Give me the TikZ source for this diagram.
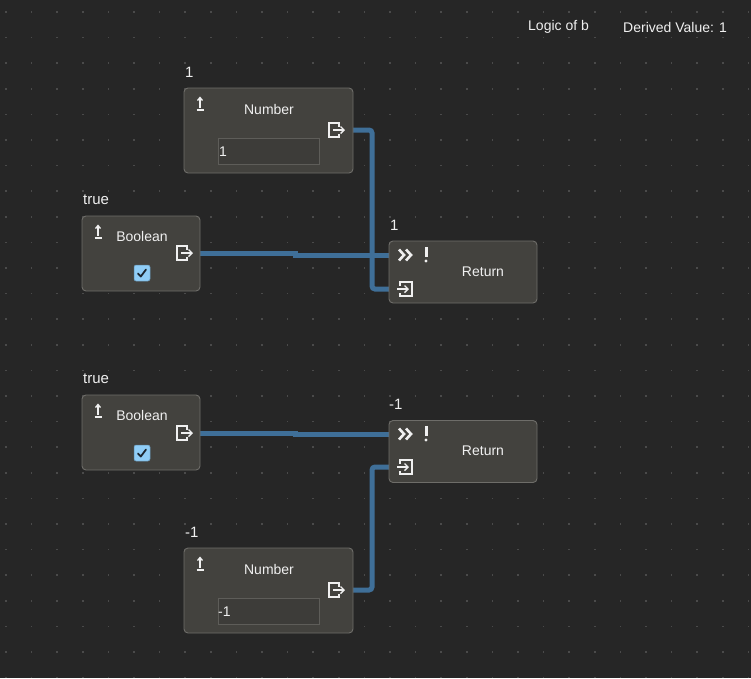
\documentclass[tikz,border=0pt]{standalone}
\usepackage{fontspec}
\setmainfont{Liberation Sans}
\definecolor{bg}{HTML}{262626}
\definecolor{dotc}{HTML}{4A4A4A}
\definecolor{nodefill}{HTML}{43423E}
\definecolor{nodeline}{HTML}{6E6D69}
\definecolor{fieldfill}{HTML}{3D3C39}
\definecolor{fieldline}{HTML}{5E5D59}
\definecolor{txt}{HTML}{F0F0F0}
\definecolor{wirec}{HTML}{3F6F98}
\definecolor{chk}{HTML}{8FCDF7}
\definecolor{chkmark}{HTML}{1C2630}
\tikzset{
  nodebox/.style={draw=nodeline, fill=nodefill, line width=0.9pt, rounded corners=4pt, inner sep=0pt},
  fieldbox/.style={draw=fieldline, fill=fieldfill, line width=0.8pt, inner sep=0pt},
  wire/.style={draw=wirec, line width=5pt, rounded corners=3pt},
  ttl/.style={text=txt, font=\fontsize{14}{16}\selectfont, inner sep=0pt},
  lbl/.style={text=txt, font=\fontsize{15}{17}\selectfont, inner sep=0pt, anchor=west},
  icon/.style={draw=txt, line width=1.4pt},
  chkbox/.style={fill=chk, draw=chk!70!black, line width=0.5pt, rounded corners=2pt, minimum size=16pt, inner sep=0pt},
}
\newcommand{\outicon}[1]{%
  \begin{scope}[shift={(#1)}]
    \draw[icon] (3,-3.5)--(3,-7)--(-7,-7)--(-7,7)--(3,7)--(3,3.5);
    \draw[icon] (-3,0)--(8,0);
    \draw[icon] (4.5,-3.5)--(8,0)--(4.5,3.5);
  \end{scope}}
\newcommand{\inicon}[1]{%
  \begin{scope}[shift={(#1)}]
    \draw[icon] (-5,-3.5)--(-5,-7)--(7,-7)--(7,7)--(-5,7)--(-5,3.5);
    \draw[icon] (-8,0)--(3,0);
    \draw[icon] (-0.5,-3.5)--(3,0)--(-0.5,3.5);
  \end{scope}}
\newcommand{\upicon}[1]{%
  \begin{scope}[shift={(#1)}]
    \draw[icon, line width=1.3pt] (0,5)--(0,-5);
    \draw[icon, line width=1.3pt] (-2.5,-2.5)--(0,-5.5)--(2.5,-2.5);
    \draw[icon, line width=1.3pt] (-3.5,7)--(3.5,7);
  \end{scope}}
\newcommand{\runicon}[1]{%
  \begin{scope}[shift={(#1)}]
    \draw[icon, line width=2.6pt, line join=miter] (-7,-5.5)--(-2,0)--(-7,5.5);
    \draw[icon, line width=2.6pt, line join=miter] (0,-5.5)--(5,0)--(0,5.5);
    \draw[icon, line width=3pt] (20,-8)--(20,2);
    \fill[txt] (20,6) circle (1.7);
  \end{scope}}
\newcommand{\checkmk}[1]{%
  \draw[chkmark, line width=1.8pt, line cap=round, line join=round] ($(#1)+(-4,0.5)$)--($(#1)+(-1.2,3.5)$)--($(#1)+(4,-3.5)$);}
\usetikzlibrary{calc}
\begin{document}
\begin{tikzpicture}[x=1pt,y=-1pt]
\fill[bg] (0,0) rectangle (751,678);
\useasboundingbox (0,0) rectangle (751,678);
% dot grid
\foreach \i in {0,...,29}{
  \foreach \j in {0,...,26}{
    \fill[dotc] ({6+25.6*\i-0.8},{12+25.6*\j-0.8}) rectangle ++(1.6,1.6);
  }}
% header
\node[ttl, anchor=west] (hdr1) at (528,27) {Logic of b};
\node[ttl, anchor=west] (hdr2) at (623,27) {Derived Value: 1};

% port coordinates
\coordinate (n1out) at (353,130);
\coordinate (b1out) at (200,253);
\coordinate (r1ex) at (389,255);
\coordinate (r1in) at (389,289);
\coordinate (b2out) at (200,433);
\coordinate (r2ex) at (389,434);
\coordinate (r2in) at (389,467);
\coordinate (n2out) at (353,590);

% wires
\draw[wire] (n1out) -- (372,130) -- (372,289) -- (r1in);
\draw[wire, rounded corners=0pt] (b1out) -- (295,253) -- (295,255) -- (r1ex);
\draw[wire, rounded corners=0pt] (b2out) -- (295,433) -- (295,434) -- (r2ex);
\draw[wire] (n2out) -- (372,590) -- (372,467) -- (r2in);

% ---------- Number 1
\node[lbl] (n1lbl) at (185,72) {1};
\node[nodebox, minimum width=169pt, minimum height=85pt] (n1) at (268.5,130.5) {};
\upicon{200,103}
\node[ttl] (n1t) at (269,109) {Number};
\outicon{336,130}
\node[fieldbox, minimum width=101pt, minimum height=26pt] (n1f) at (268.5,151) {};
\node[ttl, anchor=west] (n1v) at (219,152) {1};

% ---------- Boolean 1
\node[lbl] (b1lbl) at (83,200) {true};
\node[nodebox, minimum width=118pt, minimum height=75pt] (b1) at (141,253.5) {};
\upicon{98,231}
\node[ttl] (b1t) at (142,236) {Boolean};
\outicon{184,253}
\node[chkbox] (b1c) at (142,273) {};
\checkmk{b1c}

% ---------- Return 1
\node[lbl] (r1lbl) at (390,225) {1};
\node[nodebox, minimum width=148pt, minimum height=62pt] (r1) at (463,272) {};
\runicon{406,255}
\node[ttl] (r1t) at (483,272) {Return};
\inicon{405,289}

% ---------- Boolean 2
\node[lbl] (b2lbl) at (83,379) {true};
\node[nodebox, minimum width=118pt, minimum height=75pt] (b2) at (141,432.5) {};
\upicon{98,410}
\node[ttl] (b2t) at (142,415) {Boolean};
\outicon{184,433}
\node[chkbox] (b2c) at (142,453) {};
\checkmk{b2c}

% ---------- Return 2
\node[lbl] (r2lbl) at (389,404) {-1};
\node[nodebox, minimum width=148pt, minimum height=62pt] (r2) at (463,451.5) {};
\runicon{406,434}
\node[ttl] (r2t) at (483,451) {Return};
\inicon{405,467}

% ---------- Number 2
\node[lbl] (n2lbl) at (185,532) {-1};
\node[nodebox, minimum width=169pt, minimum height=85pt] (n2) at (268.5,590.5) {};
\upicon{200,563}
\node[ttl] (n2t) at (269,569) {Number};
\outicon{336,590}
\node[fieldbox, minimum width=101pt, minimum height=26pt] (n2f) at (268.5,611) {};
\node[ttl, anchor=west] (n2v) at (218,612) {-1};
\end{tikzpicture}
\end{document}
